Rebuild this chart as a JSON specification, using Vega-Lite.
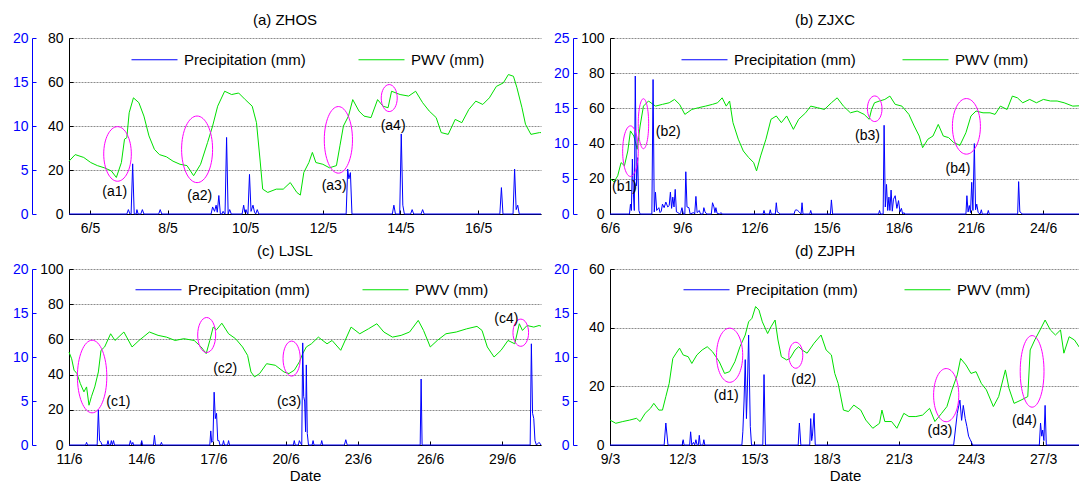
{
"$schema": "https://vega.github.io/schema/vega-lite/v6.json",
"padding": {"left": 12, "top": 13, "right": 0, "bottom": 0},
"config": {
  "font": "Liberation Sans",
  "view": {"stroke": null},
  "axis": {"labelFontSize": 14, "labelColor": "#000000", "domainColor": "#000000", "tickColor": "#000000", "gridColor": "#8c8c8c", "gridDash": [2, 1], "gridWidth": 1, "titleFontSize": 15, "titleFontWeight": "normal", "titleColor": "#000000", "domainWidth": 1, "tickWidth": 1, "labelFont": "Liberation Sans", "titleFont": "Liberation Sans"},
  "title": {"fontSize": 15, "fontWeight": "normal", "color": "#000000", "font": "Liberation Sans"},
  "legend": {"labelFontSize": 15, "labelColor": "#000000", "labelFont": "Liberation Sans"}
},
"datasets": {
  "a_pwv": [{"d":5.46,"v":24},{"d":5.62,"v":27},{"d":5.84,"v":25.7},{"d":6.02,"v":23.4},{"d":6.19,"v":22},{"d":6.37,"v":21},{"d":6.55,"v":19.6},{"d":6.68,"v":16.6},{"d":6.81,"v":23.4},{"d":6.89,"v":34},{"d":6.95,"v":34.7},{"d":7.01,"v":46},{"d":7.12,"v":52.8},{"d":7.26,"v":50.6},{"d":7.39,"v":44.5},{"d":7.52,"v":35.5},{"d":7.66,"v":29.4},{"d":7.79,"v":27},{"d":7.97,"v":26},{"d":8.14,"v":24},{"d":8.32,"v":22.6},{"d":8.5,"v":22},{"d":8.67,"v":17.4},{"d":8.85,"v":22.6},{"d":9.03,"v":32.5},{"d":9.16,"v":40},{"d":9.29,"v":49},{"d":9.47,"v":55.8},{"d":9.65,"v":54.3},{"d":9.83,"v":55},{"d":10.0,"v":52},{"d":10.18,"v":49},{"d":10.29,"v":41.5},{"d":10.38,"v":25},{"d":10.45,"v":11.3},{"d":10.58,"v":9.8},{"d":10.8,"v":11.3},{"d":10.98,"v":11.3},{"d":11.16,"v":14.3},{"d":11.33,"v":9.8},{"d":11.42,"v":8.6},{"d":11.51,"v":18.9},{"d":11.64,"v":23.4},{"d":11.73,"v":28},{"d":11.82,"v":23.4},{"d":12.0,"v":22.6},{"d":12.17,"v":21},{"d":12.35,"v":22},{"d":12.44,"v":31},{"d":12.53,"v":40},{"d":12.66,"v":44.5},{"d":12.77,"v":52},{"d":12.93,"v":46.8},{"d":13.06,"v":44.5},{"d":13.24,"v":43.8},{"d":13.41,"v":52},{"d":13.55,"v":49},{"d":13.68,"v":48.3},{"d":13.77,"v":55.8},{"d":13.99,"v":54.3},{"d":14.21,"v":53.6},{"d":14.39,"v":55.8},{"d":14.57,"v":50.6},{"d":14.74,"v":46.8},{"d":14.92,"v":43.8},{"d":15.05,"v":37},{"d":15.23,"v":36.2},{"d":15.41,"v":43},{"d":15.58,"v":41.5},{"d":15.76,"v":47.5},{"d":15.94,"v":51.3},{"d":16.12,"v":49.8},{"d":16.29,"v":52.8},{"d":16.47,"v":58},{"d":16.65,"v":59.6},{"d":16.78,"v":63.4},{"d":16.91,"v":62.6},{"d":17.0,"v":57.4},{"d":17.13,"v":48.3},{"d":17.22,"v":40.8},{"d":17.36,"v":36.2},{"d":17.58,"v":37},{"d":17.62,"v":37}],
  "a_pr": [{"d":5.46,"v":0},{"d":6.95,"v":0},{"d":6.99,"v":0.5},{"d":7.03,"v":0},{"d":7.06,"v":0},{"d":7.1,"v":5.7},{"d":7.14,"v":0},{"d":7.19,"v":0},{"d":7.21,"v":0.5},{"d":7.24,"v":0},{"d":7.31,"v":0},{"d":7.35,"v":0.5},{"d":7.39,"v":0},{"d":7.77,"v":0},{"d":7.81,"v":0.5},{"d":7.85,"v":0},{"d":9.12,"v":0},{"d":9.16,"v":0.8},{"d":9.21,"v":0.3},{"d":9.25,"v":1.0},{"d":9.28,"v":0.2},{"d":9.32,"v":2.1},{"d":9.36,"v":0},{"d":9.4,"v":0},{"d":9.43,"v":0.3},{"d":9.47,"v":0},{"d":9.48,"v":0},{"d":9.52,"v":8.7},{"d":9.56,"v":0},{"d":9.6,"v":0.5},{"d":9.64,"v":0},{"d":9.92,"v":0},{"d":9.96,"v":1.0},{"d":9.99,"v":0.2},{"d":10.02,"v":0.5},{"d":10.06,"v":0},{"d":10.07,"v":0},{"d":10.11,"v":4.5},{"d":10.15,"v":0.3},{"d":10.2,"v":1.0},{"d":10.24,"v":0.2},{"d":10.27,"v":0},{"d":10.31,"v":0.5},{"d":10.35,"v":0},{"d":12.6,"v":0},{"d":12.64,"v":5.1},{"d":12.67,"v":4.0},{"d":12.71,"v":4.7},{"d":12.75,"v":0},{"d":13.79,"v":0},{"d":13.83,"v":1.0},{"d":13.87,"v":0},{"d":13.98,"v":0},{"d":14.02,"v":9.1},{"d":14.06,"v":1.0},{"d":14.1,"v":0},{"d":14.26,"v":0},{"d":14.3,"v":0.5},{"d":14.34,"v":0},{"d":14.53,"v":0},{"d":14.57,"v":0.5},{"d":14.61,"v":0},{"d":16.56,"v":0},{"d":16.6,"v":3.0},{"d":16.64,"v":0},{"d":16.9,"v":0},{"d":16.94,"v":5.1},{"d":16.98,"v":0.5},{"d":17.02,"v":1.0},{"d":17.06,"v":0},{"d":17.62,"v":0}],
  "a_ell": [{"id":"a1","d":6.71,"v":27.3},{"id":"a2","d":8.76,"v":29.4},{"id":"a3","d":12.4,"v":33.7},{"id":"a4","d":13.71,"v":52.7}],
  "a_lab": [{"label":"(a1)","d":6.64,"v":9.8},{"label":"(a2)","d":8.83,"v":8.3},{"label":"(a3)","d":12.29,"v":12.8},{"label":"(a4)","d":13.81,"v":40}],
  "b_pwv": [{"d":6.0,"v":20},{"d":6.03,"v":19.8},{"d":6.17,"v":18.3},{"d":6.32,"v":21.7},{"d":6.46,"v":29.2},{"d":6.6,"v":27.4},{"d":6.74,"v":35.8},{"d":6.85,"v":47.2},{"d":6.99,"v":44.3},{"d":7.13,"v":36.8},{"d":7.25,"v":50},{"d":7.39,"v":61.3},{"d":7.6,"v":64.2},{"d":7.89,"v":61.3},{"d":8.18,"v":62.3},{"d":8.46,"v":63.2},{"d":8.68,"v":65.1},{"d":8.89,"v":62.3},{"d":9.11,"v":56.6},{"d":9.4,"v":59.4},{"d":9.68,"v":60.4},{"d":9.97,"v":61.3},{"d":10.26,"v":62.3},{"d":10.47,"v":63.2},{"d":10.66,"v":66},{"d":10.83,"v":61.3},{"d":10.97,"v":64.2},{"d":11.11,"v":51.9},{"d":11.33,"v":42.5},{"d":11.54,"v":35.8},{"d":11.76,"v":32.1},{"d":11.97,"v":29.2},{"d":12.09,"v":24.5},{"d":12.26,"v":33},{"d":12.48,"v":42.5},{"d":12.69,"v":53.8},{"d":12.91,"v":55.7},{"d":13.12,"v":51.9},{"d":13.34,"v":55.7},{"d":13.62,"v":48.1},{"d":13.84,"v":53.8},{"d":14.13,"v":57.5},{"d":14.34,"v":61.3},{"d":14.62,"v":60.4},{"d":14.91,"v":59.4},{"d":15.2,"v":63.2},{"d":15.44,"v":66},{"d":15.7,"v":61.3},{"d":15.99,"v":57.5},{"d":16.27,"v":58.5},{"d":16.56,"v":56.6},{"d":16.77,"v":53.8},{"d":16.87,"v":59.4},{"d":16.99,"v":63.2},{"d":17.2,"v":64.2},{"d":17.42,"v":65.1},{"d":17.63,"v":67},{"d":17.85,"v":62.3},{"d":18.13,"v":61.3},{"d":18.42,"v":56.6},{"d":18.64,"v":50},{"d":18.85,"v":44.3},{"d":18.99,"v":37.7},{"d":19.21,"v":42.5},{"d":19.42,"v":44.3},{"d":19.64,"v":50.9},{"d":19.85,"v":44.3},{"d":20.07,"v":43.4},{"d":20.28,"v":40.6},{"d":20.54,"v":39},{"d":20.79,"v":46.2},{"d":21.0,"v":55.7},{"d":21.21,"v":58.5},{"d":21.5,"v":57.5},{"d":21.79,"v":57.5},{"d":22.0,"v":56.6},{"d":22.22,"v":61.3},{"d":22.5,"v":59.4},{"d":22.72,"v":67},{"d":22.93,"v":66},{"d":23.15,"v":63.2},{"d":23.44,"v":65.1},{"d":23.72,"v":63.2},{"d":24.01,"v":65.1},{"d":24.3,"v":64.2},{"d":24.58,"v":64.2},{"d":24.87,"v":63.2},{"d":25.23,"v":61.3},{"d":25.53,"v":61.5}],
  "b_pr": [{"d":6.0,"v":0},{"d":6.81,"v":0},{"d":6.85,"v":1.4},{"d":6.89,"v":0.5},{"d":6.93,"v":7.8},{"d":6.97,"v":3},{"d":7.01,"v":0.5},{"d":7.05,"v":19.6},{"d":7.1,"v":4},{"d":7.15,"v":8.0},{"d":7.2,"v":0.5},{"d":7.25,"v":0},{"d":7.74,"v":0},{"d":7.79,"v":19.1},{"d":7.84,"v":0.3},{"d":7.89,"v":3.1},{"d":7.94,"v":0.5},{"d":8.03,"v":0.9},{"d":8.08,"v":0.2},{"d":8.13,"v":0.4},{"d":8.18,"v":1.4},{"d":8.25,"v":0.9},{"d":8.32,"v":1.7},{"d":8.4,"v":1.0},{"d":8.46,"v":1.2},{"d":8.51,"v":3.1},{"d":8.56,"v":0.8},{"d":8.61,"v":2.4},{"d":8.66,"v":1.0},{"d":8.71,"v":3.5},{"d":8.76,"v":0.3},{"d":8.82,"v":0.2},{"d":8.9,"v":0},{"d":8.94,"v":0.2},{"d":8.99,"v":0.9},{"d":9.05,"v":0},{"d":9.11,"v":0},{"d":9.15,"v":6.0},{"d":9.2,"v":1.0},{"d":9.28,"v":0.9},{"d":9.33,"v":0},{"d":9.47,"v":0.2},{"d":9.52,"v":0},{"d":9.57,"v":2.5},{"d":9.62,"v":0.2},{"d":9.71,"v":0.5},{"d":9.76,"v":0},{"d":9.86,"v":0},{"d":9.9,"v":0.9},{"d":9.95,"v":0.3},{"d":10.02,"v":0},{"d":10.21,"v":0},{"d":10.26,"v":1.6},{"d":10.32,"v":1.0},{"d":10.36,"v":0.2},{"d":10.4,"v":0.9},{"d":10.45,"v":0.1},{"d":10.56,"v":0},{"d":10.61,"v":0.2},{"d":10.66,"v":0},{"d":12.36,"v":0},{"d":12.4,"v":0.5},{"d":12.44,"v":0},{"d":12.62,"v":0},{"d":12.66,"v":0.6},{"d":12.7,"v":0},{"d":12.87,"v":0},{"d":12.91,"v":1.6},{"d":12.95,"v":0.3},{"d":13.01,"v":0.2},{"d":13.05,"v":0},{"d":13.65,"v":0},{"d":13.69,"v":0.5},{"d":13.73,"v":0.6},{"d":13.8,"v":0.5},{"d":13.86,"v":0.3},{"d":13.94,"v":0},{"d":13.98,"v":1.6},{"d":14.02,"v":0},{"d":14.3,"v":0},{"d":14.34,"v":0.5},{"d":14.38,"v":0},{"d":15.16,"v":0},{"d":15.2,"v":2.0},{"d":15.25,"v":0},{"d":17.16,"v":0},{"d":17.2,"v":0.5},{"d":17.24,"v":0},{"d":17.35,"v":0},{"d":17.39,"v":12.6},{"d":17.44,"v":1.0},{"d":17.49,"v":4.2},{"d":17.54,"v":0.5},{"d":17.59,"v":2.4},{"d":17.63,"v":0.5},{"d":17.68,"v":3.4},{"d":17.73,"v":0.4},{"d":17.78,"v":2.1},{"d":17.85,"v":2.6},{"d":17.92,"v":0.8},{"d":17.99,"v":1.9},{"d":18.05,"v":0.3},{"d":18.11,"v":0.8},{"d":18.16,"v":0},{"d":18.21,"v":0.2},{"d":18.25,"v":0},{"d":20.79,"v":0},{"d":20.83,"v":2.6},{"d":20.88,"v":0.3},{"d":20.93,"v":1.2},{"d":20.98,"v":0.2},{"d":21.03,"v":4.5},{"d":21.08,"v":0.5},{"d":21.14,"v":10.0},{"d":21.19,"v":0.6},{"d":21.24,"v":1.4},{"d":21.3,"v":0.2},{"d":21.38,"v":0},{"d":21.43,"v":0.6},{"d":21.47,"v":0},{"d":21.68,"v":0},{"d":21.72,"v":0.5},{"d":21.76,"v":0},{"d":22.94,"v":0},{"d":22.98,"v":4.6},{"d":23.03,"v":0.3},{"d":23.08,"v":0.2},{"d":23.12,"v":0},{"d":25.53,"v":0}],
  "b_ell": [{"id":"b1","d":6.85,"v":35.7},{"id":"b2","d":7.39,"v":51.3},{"id":"b3","d":17.0,"v":59.8},{"id":"b4","d":20.81,"v":49.8}],
  "b_lab": [{"label":"(b1)","d":6.6,"v":15.1},{"label":"(b2)","d":8.42,"v":46.6},{"label":"(b3)","d":16.7,"v":44.3},{"label":"(b4)","d":20.46,"v":25.5}],
  "c_pwv": [{"d":11.0,"v":52.8},{"d":11.11,"v":49},{"d":11.21,"v":42.5},{"d":11.33,"v":40.6},{"d":11.47,"v":34.9},{"d":11.62,"v":30.2},{"d":11.73,"v":33},{"d":11.83,"v":22.6},{"d":11.93,"v":27.4},{"d":12.07,"v":33},{"d":12.22,"v":41.5},{"d":12.33,"v":53.8},{"d":12.48,"v":55.7},{"d":12.73,"v":63.2},{"d":12.91,"v":59.4},{"d":13.28,"v":64.2},{"d":13.62,"v":55.7},{"d":13.91,"v":59.4},{"d":14.34,"v":64.2},{"d":14.7,"v":62.3},{"d":15.05,"v":61.3},{"d":15.41,"v":59.4},{"d":15.77,"v":60.4},{"d":16.2,"v":59.4},{"d":16.49,"v":55.7},{"d":16.7,"v":51.9},{"d":16.85,"v":59.4},{"d":16.99,"v":67},{"d":17.13,"v":65.5},{"d":17.35,"v":69.2},{"d":17.63,"v":63.2},{"d":17.92,"v":60.4},{"d":18.21,"v":55.7},{"d":18.42,"v":50.9},{"d":18.56,"v":41.5},{"d":18.71,"v":38.7},{"d":18.92,"v":40.6},{"d":19.21,"v":46.2},{"d":19.57,"v":45.3},{"d":19.93,"v":41.5},{"d":20.14,"v":40.6},{"d":20.36,"v":42.5},{"d":20.57,"v":47.2},{"d":20.71,"v":51.9},{"d":20.86,"v":55.7},{"d":21.07,"v":57.5},{"d":21.36,"v":61.3},{"d":21.72,"v":57.5},{"d":21.93,"v":59.4},{"d":22.29,"v":53.8},{"d":22.72,"v":67},{"d":23.08,"v":63.2},{"d":23.44,"v":66},{"d":23.79,"v":68.9},{"d":24.08,"v":64.2},{"d":24.44,"v":61.3},{"d":24.8,"v":62.3},{"d":25.15,"v":64.2},{"d":25.51,"v":70.8},{"d":25.73,"v":65.1},{"d":26.01,"v":55.7},{"d":26.3,"v":59.4},{"d":26.66,"v":63.2},{"d":27.09,"v":64.2},{"d":27.52,"v":66},{"d":27.95,"v":67.4},{"d":28.16,"v":65.1},{"d":28.38,"v":55.7},{"d":28.66,"v":50},{"d":28.95,"v":53.8},{"d":29.24,"v":59.4},{"d":29.52,"v":57.5},{"d":29.71,"v":68.9},{"d":29.84,"v":65.1},{"d":30.03,"v":67.9},{"d":30.31,"v":67},{"d":30.53,"v":67.9},{"d":30.61,"v":67.5}],
  "c_pr": [{"d":11.0,"v":0},{"d":11.69,"v":0},{"d":11.73,"v":0.3},{"d":11.77,"v":0},{"d":12.17,"v":0},{"d":12.22,"v":4.0},{"d":12.27,"v":0.5},{"d":12.33,"v":0.3},{"d":12.37,"v":0},{"d":12.58,"v":0},{"d":12.62,"v":0.5},{"d":12.66,"v":0},{"d":12.72,"v":0},{"d":12.76,"v":0.5},{"d":12.8,"v":0},{"d":12.85,"v":0.5},{"d":12.89,"v":0},{"d":13.51,"v":0},{"d":13.55,"v":0.5},{"d":13.6,"v":0},{"d":13.65,"v":0.3},{"d":13.69,"v":0},{"d":13.98,"v":0},{"d":14.02,"v":0.5},{"d":14.06,"v":0},{"d":14.51,"v":0},{"d":14.55,"v":1.1},{"d":14.59,"v":0},{"d":14.8,"v":0},{"d":14.84,"v":0.3},{"d":14.88,"v":0},{"d":16.85,"v":0},{"d":16.89,"v":1.6},{"d":16.93,"v":0.3},{"d":16.98,"v":0.5},{"d":17.03,"v":6.0},{"d":17.08,"v":3.0},{"d":17.13,"v":3.6},{"d":17.18,"v":0.5},{"d":17.23,"v":0.5},{"d":17.27,"v":0},{"d":17.38,"v":0},{"d":17.42,"v":0.5},{"d":17.46,"v":0},{"d":17.59,"v":0},{"d":17.63,"v":0.5},{"d":17.67,"v":0},{"d":20.32,"v":0},{"d":20.36,"v":0.5},{"d":20.4,"v":0},{"d":20.53,"v":0},{"d":20.57,"v":0.5},{"d":20.62,"v":0.2},{"d":20.67,"v":0},{"d":20.71,"v":11.6},{"d":20.75,"v":5.5},{"d":20.79,"v":5.0},{"d":20.83,"v":1.5},{"d":20.86,"v":9.1},{"d":20.9,"v":1.3},{"d":20.95,"v":0},{"d":21.1,"v":0},{"d":21.14,"v":0.5},{"d":21.18,"v":0},{"d":21.46,"v":0},{"d":21.5,"v":0.5},{"d":21.54,"v":0},{"d":22.44,"v":0},{"d":22.5,"v":0.6},{"d":22.56,"v":0},{"d":25.59,"v":0},{"d":25.63,"v":7.5},{"d":25.67,"v":0},{"d":30.16,"v":0},{"d":30.21,"v":11.5},{"d":30.26,"v":3.6},{"d":30.31,"v":3.0},{"d":30.36,"v":0.5},{"d":30.42,"v":0},{"d":30.53,"v":0.3},{"d":30.61,"v":0}],
  "c_ell": [{"id":"c1","d":11.96,"v":38.9},{"id":"c2","d":16.72,"v":62.5},{"id":"c3","d":20.25,"v":49.1},{"id":"c4","d":29.77,"v":63.8}],
  "c_lab": [{"label":"(c1)","d":13.05,"v":24.5},{"label":"(c2)","d":17.49,"v":43.4},{"label":"(c3)","d":20.14,"v":24.5},{"label":"(c4)","d":29.17,"v":71.7}],
  "d_pwv": [{"d":9.0,"v":8.5},{"d":9.24,"v":7.4},{"d":9.53,"v":8.0},{"d":9.82,"v":8.5},{"d":10.1,"v":9.1},{"d":10.25,"v":8.0},{"d":10.46,"v":10.8},{"d":10.68,"v":12.5},{"d":10.82,"v":14.2},{"d":11.03,"v":11.9},{"d":11.18,"v":11.9},{"d":11.32,"v":16.5},{"d":11.46,"v":21},{"d":11.61,"v":29.5},{"d":11.75,"v":31.3},{"d":11.89,"v":33},{"d":12.04,"v":30.7},{"d":12.25,"v":30.1},{"d":12.4,"v":27.8},{"d":12.61,"v":30.7},{"d":12.83,"v":32.4},{"d":13.04,"v":33.5},{"d":13.26,"v":31.8},{"d":13.4,"v":30.1},{"d":13.54,"v":28.4},{"d":13.76,"v":24.4},{"d":13.97,"v":25},{"d":14.19,"v":28.4},{"d":14.4,"v":33.5},{"d":14.62,"v":37.5},{"d":14.76,"v":42},{"d":14.9,"v":43.2},{"d":15.05,"v":47.2},{"d":15.19,"v":46},{"d":15.33,"v":42},{"d":15.55,"v":38},{"d":15.69,"v":40.3},{"d":15.86,"v":42.6},{"d":15.98,"v":35.8},{"d":16.12,"v":30.1},{"d":16.34,"v":29},{"d":16.48,"v":29.5},{"d":16.69,"v":32.4},{"d":16.84,"v":33.5},{"d":16.98,"v":32.4},{"d":17.19,"v":31.3},{"d":17.48,"v":34.7},{"d":17.77,"v":37.5},{"d":17.98,"v":32.4},{"d":18.2,"v":30.7},{"d":18.34,"v":24.4},{"d":18.48,"v":21},{"d":18.7,"v":11.9},{"d":18.91,"v":11.4},{"d":19.13,"v":13.6},{"d":19.42,"v":11.9},{"d":19.63,"v":8.5},{"d":19.92,"v":5.7},{"d":20.2,"v":7.4},{"d":20.3,"v":11.9},{"d":20.42,"v":8.0},{"d":20.7,"v":8.0},{"d":20.92,"v":5.7},{"d":21.21,"v":10.8},{"d":21.42,"v":9.7},{"d":21.71,"v":9.7},{"d":21.99,"v":10.2},{"d":22.28,"v":12.5},{"d":22.5,"v":8.0},{"d":22.78,"v":10.8},{"d":23.0,"v":13.1},{"d":23.21,"v":18.8},{"d":23.43,"v":23.9},{"d":23.57,"v":29.5},{"d":23.79,"v":27.3},{"d":24.0,"v":24.4},{"d":24.21,"v":25},{"d":24.43,"v":21},{"d":24.64,"v":18.8},{"d":24.93,"v":13.1},{"d":25.15,"v":16.5},{"d":25.43,"v":25.6},{"d":25.58,"v":19.3},{"d":25.79,"v":14.2},{"d":26.08,"v":15.3},{"d":26.36,"v":16.5},{"d":26.46,"v":32.4},{"d":26.65,"v":35.8},{"d":26.87,"v":39.2},{"d":27.08,"v":42.6},{"d":27.3,"v":39.2},{"d":27.51,"v":37.5},{"d":27.72,"v":39.2},{"d":27.86,"v":31.3},{"d":28.08,"v":36.9},{"d":28.3,"v":35.8},{"d":28.53,"v":33}],
  "d_pr": [{"d":9.0,"v":0},{"d":11.25,"v":0},{"d":11.32,"v":2.5},{"d":11.41,"v":0},{"d":12.0,"v":0},{"d":12.04,"v":0.6},{"d":12.08,"v":0},{"d":12.31,"v":0},{"d":12.35,"v":1.5},{"d":12.4,"v":0},{"d":12.47,"v":0.3},{"d":12.52,"v":0},{"d":12.57,"v":0.6},{"d":12.62,"v":0},{"d":12.67,"v":0},{"d":12.71,"v":1.1},{"d":12.75,"v":0},{"d":12.86,"v":0},{"d":12.9,"v":0.6},{"d":12.94,"v":0},{"d":14.48,"v":0},{"d":14.52,"v":1.5},{"d":14.57,"v":5},{"d":14.62,"v":9.7},{"d":14.67,"v":3},{"d":14.71,"v":6.6},{"d":14.76,"v":12.5},{"d":14.83,"v":2.1},{"d":14.88,"v":0},{"d":15.35,"v":0},{"d":15.4,"v":8.0},{"d":15.46,"v":0},{"d":16.82,"v":0},{"d":16.87,"v":2.5},{"d":16.93,"v":0},{"d":17.3,"v":0},{"d":17.34,"v":3.0},{"d":17.38,"v":0.5},{"d":17.41,"v":1.0},{"d":17.48,"v":3.6},{"d":17.53,"v":0},{"d":23.28,"v":0},{"d":23.43,"v":3.6},{"d":23.54,"v":5.1},{"d":23.61,"v":2.8},{"d":23.68,"v":4.5},{"d":23.76,"v":3.0},{"d":23.83,"v":2.1},{"d":23.9,"v":1.0},{"d":23.97,"v":0.6},{"d":24.04,"v":0.2},{"d":24.07,"v":0},{"d":26.84,"v":0},{"d":26.89,"v":2.5},{"d":26.94,"v":1.0},{"d":26.98,"v":1.7},{"d":27.03,"v":0.5},{"d":27.08,"v":4.5},{"d":27.13,"v":0},{"d":28.53,"v":0}],
  "d_ell": [{"id":"d1","d":13.97,"v":30.6},{"id":"d2","d":16.72,"v":30.6},{"id":"d3","d":22.97,"v":17.0},{"id":"d4","d":26.54,"v":25.1}],
  "d_lab": [{"label":"(d1)","d":13.83,"v":16.7},{"label":"(d2)","d":17.05,"v":22.2},{"label":"(d3)","d":22.71,"v":4.9},{"label":"(d4)","d":26.22,"v":8.3}]
},
"columns": 2,
"bounds": "flush",
"spacing": {"row": 55, "column": 69},
"resolve": {"scale": {"x": "independent", "y": "independent", "color": "independent", "shape": "independent"}, "legend": {"color": "independent"}},
"concat": [
{
  "title": {"text": "(a) ZHOS", "frame": "group", "dx": -20, "offset": 3},
  "width": 472, "height": 176,
  "resolve": {"scale": {"y": "independent"}},
  "layer": [
    {"data": {"name": "a_pwv"}, "mark": {"type": "line", "strokeWidth": 1},
     "encoding": {
       "x": {"field": "d", "type": "quantitative", "scale": {"domain": [5.46, 17.62], "nice": false, "zero": false},
             "axis": {"values": [6, 8, 10, 12, 14, 16], "labelExpr": "datum.value + '/5'", "title": null, "grid": false, "tickSize": -4, "labelPadding": 11, "labelFlush": false, "labelOverlap": false}},
       "y": {"field": "v", "type": "quantitative", "scale": {"domain": [0, 80], "nice": false},
             "axis": {"orient": "left", "values": [0, 20, 40, 60, 80], "title": null, "grid": true, "tickSize": -4, "labelPadding": 10}},
       "color": {"datum": "PWV (mm)", "type": "nominal"}
     }},
    {"data": {"name": "a_pr"}, "mark": {"type": "line", "strokeWidth": 1},
     "encoding": {
       "x": {"field": "d", "type": "quantitative", "scale": {"domain": [5.46, 17.62], "nice": false, "zero": false}},
       "y": {"field": "v", "type": "quantitative", "scale": {"domain": [0, 20], "nice": false},
             "axis": {"orient": "left", "offset": 37, "values": [0, 5, 10, 15, 20], "title": null, "grid": false, "tickSize": -4, "labelPadding": 8, "domainColor": "#0000FF", "tickColor": "#0000FF", "labelColor": "#0000FF"}},
       "color": {"datum": "Precipitation (mm)", "type": "nominal",
                 "scale": {"domain": ["Precipitation (mm)", "PWV (mm)"], "range": ["#0000FF", "#00E000"]},
                 "legend": {"title": null, "orient": "none", "legendX": 62, "legendY": -2, "direction": "horizontal", "symbolType": "stroke", "symbolSize": 2116, "symbolStrokeWidth": 1, "labelFontSize": 15, "labelOffset": 6, "columnPadding": 50, "padding": 0}}
     }},
    {"data": {"name": "a_ell"}, "mark": {"type": "point", "size": 4, "filled": false, "stroke": "#FF00FF", "strokeWidth": 1, "opacity": 1},
     "encoding": {
       "x": {"field": "d", "type": "quantitative", "scale": {"domain": [5.46, 17.62], "nice": false, "zero": false}},
       "y": {"field": "v", "type": "quantitative", "scale": {"domain": [0, 80], "nice": false}, "axis": null},
       "shape": {"field": "id", "type": "nominal", "legend": null, "scale": {"domain": ["a1", "a2", "a3", "a4"], "range": [
         "M -13.8 0 A 13.8 27.3 0 1 0 13.8 0 A 13.8 27.3 0 1 0 -13.8 0 Z",
         "M -15.5 0 A 15.5 33.3 0 1 0 15.5 0 A 15.5 33.3 0 1 0 -15.5 0 Z",
         "M -14.1 0 A 14.1 33.3 0 1 0 14.1 0 A 14.1 33.3 0 1 0 -14.1 0 Z",
         "M -8 0 A 8 13.5 0 1 0 8 0 A 8 13.5 0 1 0 -8 0 Z"]}}
     }},
    {"data": {"name": "a_lab"}, "mark": {"type": "text", "fontSize": 14, "color": "#000000"},
     "encoding": {
       "x": {"field": "d", "type": "quantitative", "scale": {"domain": [5.46, 17.62], "nice": false, "zero": false}},
       "y": {"field": "v", "type": "quantitative", "scale": {"domain": [0, 80], "nice": false}, "axis": null},
       "text": {"field": "label", "type": "nominal"}
     }}
  ]
},
{
  "title": {"text": "(b) ZJXC", "frame": "group", "dx": -20, "offset": 3},
  "width": 470, "height": 176,
  "resolve": {"scale": {"y": "independent"}},
  "layer": [
    {"data": {"name": "b_pwv"}, "mark": {"type": "line", "strokeWidth": 1},
     "encoding": {
       "x": {"field": "d", "type": "quantitative", "scale": {"domain": [6.0, 25.53], "nice": false, "zero": false},
             "axis": {"values": [6, 9, 12, 15, 18, 21, 24], "labelExpr": "datum.value + '/6'", "title": null, "grid": false, "tickSize": -4, "labelPadding": 11, "labelFlush": false, "labelOverlap": false}},
       "y": {"field": "v", "type": "quantitative", "scale": {"domain": [0, 100], "nice": false},
             "axis": {"orient": "left", "values": [0, 20, 40, 60, 80, 100], "title": null, "grid": true, "tickSize": -4, "labelPadding": 10}},
       "color": {"datum": "PWV (mm)", "type": "nominal"}
     }},
    {"data": {"name": "b_pr"}, "mark": {"type": "line", "strokeWidth": 1},
     "encoding": {
       "x": {"field": "d", "type": "quantitative", "scale": {"domain": [6.0, 25.53], "nice": false, "zero": false}},
       "y": {"field": "v", "type": "quantitative", "scale": {"domain": [0, 25], "nice": false},
             "axis": {"orient": "left", "offset": 37, "values": [0, 5, 10, 15, 20, 25], "title": null, "grid": false, "tickSize": -4, "labelPadding": 8, "domainColor": "#0000FF", "tickColor": "#0000FF", "labelColor": "#0000FF"}},
       "color": {"datum": "Precipitation (mm)", "type": "nominal",
                 "scale": {"domain": ["Precipitation (mm)", "PWV (mm)"], "range": ["#0000FF", "#00E000"]},
                 "legend": {"title": null, "orient": "none", "legendX": 71, "legendY": -2, "direction": "horizontal", "symbolType": "stroke", "symbolSize": 2116, "symbolStrokeWidth": 1, "labelFontSize": 15, "labelOffset": 6, "columnPadding": 44, "padding": 0}}
     }},
    {"data": {"name": "b_ell"}, "mark": {"type": "point", "size": 4, "filled": false, "stroke": "#FF00FF", "strokeWidth": 1, "opacity": 1},
     "encoding": {
       "x": {"field": "d", "type": "quantitative", "scale": {"domain": [6.0, 25.53], "nice": false, "zero": false}},
       "y": {"field": "v", "type": "quantitative", "scale": {"domain": [0, 100], "nice": false}, "axis": null},
       "shape": {"field": "id", "type": "nominal", "legend": null, "scale": {"domain": ["b1", "b2", "b3", "b4"], "range": [
         "M -7.8 0 A 7.8 25.3 0 1 0 7.8 0 A 7.8 25.3 0 1 0 -7.8 0 Z",
         "M -5.2 0 A 5.2 25 0 1 0 5.2 0 A 5.2 25 0 1 0 -5.2 0 Z",
         "M -7.3 0 A 7.3 12.8 0 1 0 7.3 0 A 7.3 12.8 0 1 0 -7.3 0 Z",
         "M -14 0 A 14 27.8 0 1 0 14 0 A 14 27.8 0 1 0 -14 0 Z"]}}
     }},
    {"data": {"name": "b_lab"}, "mark": {"type": "text", "fontSize": 14, "color": "#000000"},
     "encoding": {
       "x": {"field": "d", "type": "quantitative", "scale": {"domain": [6.0, 25.53], "nice": false, "zero": false}},
       "y": {"field": "v", "type": "quantitative", "scale": {"domain": [0, 100], "nice": false}, "axis": null},
       "text": {"field": "label", "type": "nominal"}
     }}
  ]
},
{
  "title": {"text": "(c) LJSL", "frame": "group", "dx": -20, "offset": 3},
  "width": 472, "height": 176,
  "resolve": {"scale": {"y": "independent"}},
  "layer": [
    {"data": {"name": "c_pwv"}, "mark": {"type": "line", "strokeWidth": 1},
     "encoding": {
       "x": {"field": "d", "type": "quantitative", "scale": {"domain": [11.0, 30.61], "nice": false, "zero": false},
             "axis": {"values": [11, 14, 17, 20, 23, 26, 29], "labelExpr": "datum.value + '/6'", "title": "Date", "titlePadding": 2, "grid": false, "tickSize": -4, "labelPadding": 11, "labelFlush": false, "labelOverlap": false}},
       "y": {"field": "v", "type": "quantitative", "scale": {"domain": [0, 100], "nice": false},
             "axis": {"orient": "left", "values": [0, 20, 40, 60, 80, 100], "title": null, "grid": true, "tickSize": -4, "labelPadding": 10}},
       "color": {"datum": "PWV (mm)", "type": "nominal"}
     }},
    {"data": {"name": "c_pr"}, "mark": {"type": "line", "strokeWidth": 1},
     "encoding": {
       "x": {"field": "d", "type": "quantitative", "scale": {"domain": [11.0, 30.61], "nice": false, "zero": false}},
       "y": {"field": "v", "type": "quantitative", "scale": {"domain": [0, 20], "nice": false},
             "axis": {"orient": "left", "offset": 37, "values": [0, 5, 10, 15, 20], "title": null, "grid": false, "tickSize": -4, "labelPadding": 8, "domainColor": "#0000FF", "tickColor": "#0000FF", "labelColor": "#0000FF"}},
       "color": {"datum": "Precipitation (mm)", "type": "nominal",
                 "scale": {"domain": ["Precipitation (mm)", "PWV (mm)"], "range": ["#0000FF", "#00E000"]},
                 "legend": {"title": null, "orient": "none", "legendX": 66, "legendY": -3, "direction": "horizontal", "symbolType": "stroke", "symbolSize": 2116, "symbolStrokeWidth": 1, "labelFontSize": 15, "labelOffset": 6, "columnPadding": 50, "padding": 0}}
     }},
    {"data": {"name": "c_ell"}, "mark": {"type": "point", "size": 4, "filled": false, "stroke": "#FF00FF", "strokeWidth": 1, "opacity": 1},
     "encoding": {
       "x": {"field": "d", "type": "quantitative", "scale": {"domain": [11.0, 30.61], "nice": false, "zero": false}},
       "y": {"field": "v", "type": "quantitative", "scale": {"domain": [0, 100], "nice": false}, "axis": null},
       "shape": {"field": "id", "type": "nominal", "legend": null, "scale": {"domain": ["c1", "c2", "c3", "c4"], "range": [
         "M -14.7 0 A 14.7 36.3 0 1 0 14.7 0 A 14.7 36.3 0 1 0 -14.7 0 Z",
         "M -9 0 A 9 17.5 0 1 0 9 0 A 9 17.5 0 1 0 -9 0 Z",
         "M -8.6 0 A 8.6 17.5 0 1 0 8.6 0 A 8.6 17.5 0 1 0 -8.6 0 Z",
         "M -7.8 0 A 7.8 13.6 0 1 0 7.8 0 A 7.8 13.6 0 1 0 -7.8 0 Z"]}}
     }},
    {"data": {"name": "c_lab"}, "mark": {"type": "text", "fontSize": 14, "color": "#000000"},
     "encoding": {
       "x": {"field": "d", "type": "quantitative", "scale": {"domain": [11.0, 30.61], "nice": false, "zero": false}},
       "y": {"field": "v", "type": "quantitative", "scale": {"domain": [0, 100], "nice": false}, "axis": null},
       "text": {"field": "label", "type": "nominal"}
     }}
  ]
},
{
  "title": {"text": "(d) ZJPH", "frame": "group", "dx": -20, "offset": 3},
  "width": 470, "height": 176,
  "resolve": {"scale": {"y": "independent"}},
  "layer": [
    {"data": {"name": "d_pwv"}, "mark": {"type": "line", "strokeWidth": 1},
     "encoding": {
       "x": {"field": "d", "type": "quantitative", "scale": {"domain": [9.0, 28.53], "nice": false, "zero": false},
             "axis": {"values": [9, 12, 15, 18, 21, 24, 27], "labelExpr": "datum.value + '/3'", "title": "Date", "titlePadding": 2, "grid": false, "tickSize": -4, "labelPadding": 11, "labelFlush": false, "labelOverlap": false}},
       "y": {"field": "v", "type": "quantitative", "scale": {"domain": [0, 60], "nice": false},
             "axis": {"orient": "left", "values": [0, 20, 40, 60], "title": null, "grid": true, "tickSize": -4, "labelPadding": 10}},
       "color": {"datum": "PWV (mm)", "type": "nominal"}
     }},
    {"data": {"name": "d_pr"}, "mark": {"type": "line", "strokeWidth": 1},
     "encoding": {
       "x": {"field": "d", "type": "quantitative", "scale": {"domain": [9.0, 28.53], "nice": false, "zero": false}},
       "y": {"field": "v", "type": "quantitative", "scale": {"domain": [0, 20], "nice": false},
             "axis": {"orient": "left", "offset": 37, "values": [0, 5, 10, 15, 20], "title": null, "grid": false, "tickSize": -4, "labelPadding": 8, "domainColor": "#0000FF", "tickColor": "#0000FF", "labelColor": "#0000FF"}},
       "color": {"datum": "Precipitation (mm)", "type": "nominal",
                 "scale": {"domain": ["Precipitation (mm)", "PWV (mm)"], "range": ["#0000FF", "#00E000"]},
                 "legend": {"title": null, "orient": "none", "legendX": 73, "legendY": -3, "direction": "horizontal", "symbolType": "stroke", "symbolSize": 2116, "symbolStrokeWidth": 1, "labelFontSize": 15, "labelOffset": 6, "columnPadding": 44, "padding": 0}}
     }},
    {"data": {"name": "d_ell"}, "mark": {"type": "point", "size": 4, "filled": false, "stroke": "#FF00FF", "strokeWidth": 1, "opacity": 1},
     "encoding": {
       "x": {"field": "d", "type": "quantitative", "scale": {"domain": [9.0, 28.53], "nice": false, "zero": false}},
       "y": {"field": "v", "type": "quantitative", "scale": {"domain": [0, 60], "nice": false}, "axis": null},
       "shape": {"field": "id", "type": "nominal", "legend": null, "scale": {"domain": ["d1", "d2", "d3", "d4"], "range": [
         "M -13.1 0 A 13.1 27.1 0 1 0 13.1 0 A 13.1 27.1 0 1 0 -13.1 0 Z",
         "M -7 0 A 7 13 0 1 0 7 0 A 7 13 0 1 0 -7 0 Z",
         "M -12.6 0 A 12.6 26.6 0 1 0 12.6 0 A 12.6 26.6 0 1 0 -12.6 0 Z",
         "M -11.9 0 A 11.9 35.8 0 1 0 11.9 0 A 11.9 35.8 0 1 0 -11.9 0 Z"]}}
     }},
    {"data": {"name": "d_lab"}, "mark": {"type": "text", "fontSize": 14, "color": "#000000"},
     "encoding": {
       "x": {"field": "d", "type": "quantitative", "scale": {"domain": [9.0, 28.53], "nice": false, "zero": false}},
       "y": {"field": "v", "type": "quantitative", "scale": {"domain": [0, 60], "nice": false}, "axis": null},
       "text": {"field": "label", "type": "nominal"}
     }}
  ]
}
]
}
